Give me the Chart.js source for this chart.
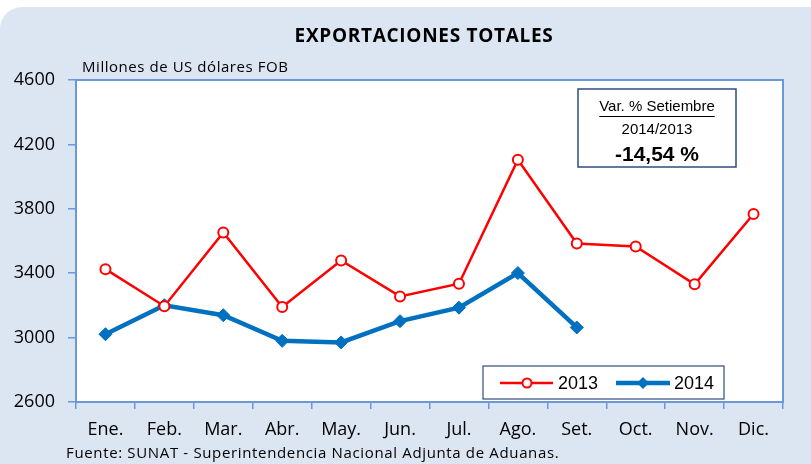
<!DOCTYPE html>
<html><head><meta charset="utf-8">
<script src="https://cdn.jsdelivr.net/npm/chart.js@4/dist/chart.umd.min.js"></script>
<style>html,body{margin:0;padding:0;background:#fff;}#wrap{width:811px;height:464px;position:relative;}</style>
</head><body><div id="wrap"><canvas id="c" width="811" height="464"></canvas></div>
<script>
const months = ["Ene.","Feb.","Mar.","Abr.","May.","Jun.","Jul.","Ago.","Set.","Oct.","Nov.","Dic."];
const exports2013 = [3425, 3195, 3653, 3190, 3479, 3256, 3335, 4105, 3585, 3566, 3331, 3768];
const exports2014 = [3021, 3201, 3139, 2980, 2970, 3102, 3186, 3401, 3063, null, null, null];
const yTicks = [2600, 3000, 3400, 3800, 4200, 4600];
const seriesNames = ["2013", "2014"];
const titleText = "EXPORTACIONES TOTALES";
const unitText = "Millones de US dólares FOB";
const sourceText = "Fuente: SUNAT - Superintendencia Nacional Adjunta de Aduanas.";
const boxLines = ["Var. % Setiembre", "2014/2013", "-14,54 %"];

const FONT = "'Open Sans', sans-serif";
const ARIAL = "'Liberation Sans', Arial, sans-serif";
const AXIS = "#6a98d8";

const decor = {
  id: 'decor',
  beforeDraw(chart) {
    const ctx = chart.ctx;
    const W = chart.width, H = chart.height;
    ctx.save();
    ctx.fillStyle = '#fff';
    ctx.fillRect(0, 0, W, H);
    ctx.fillStyle = '#dce6f2';
    ctx.beginPath();
    ctx.roundRect(0, 7, W + 20, H + 30, 22);
    ctx.fill();
    const a = chart.chartArea;
    ctx.fillStyle = '#fff';
    ctx.fillRect(a.left, a.top, a.right - a.left, a.bottom - a.top);
    ctx.fillStyle = '#000';
    ctx.textAlign = 'center'; ctx.textBaseline = 'middle';
    ctx.font = "bold 19px " + FONT;
    ctx.letterSpacing = '0.7px';
    ctx.fillText(titleText, 424, 37);
    ctx.textAlign = 'left';
    ctx.font = "15px " + FONT;
    ctx.letterSpacing = '0.55px';
    ctx.fillText(unitText, 82, 68);
    ctx.letterSpacing = '0.65px';
    ctx.fillText(sourceText, 66, 454);
    ctx.letterSpacing = '0px';
    ctx.restore();
  },
  afterDraw(chart) {
    const ctx = chart.ctx;
    const a = chart.chartArea;
    ctx.save();
    ctx.strokeStyle = AXIS; ctx.lineWidth = 2;
    ctx.strokeRect(a.left, a.top, a.right - a.left, a.bottom - a.top);
    // variation box
    ctx.fillStyle = '#fff';
    ctx.fillRect(578, 89, 158, 78);
    ctx.strokeStyle = '#2e4d7e'; ctx.lineWidth = 1.5;
    ctx.strokeRect(578, 89, 158, 78);
    ctx.fillStyle = '#000';
    ctx.textAlign = 'center'; ctx.textBaseline = 'middle';
    ctx.font = "15px " + ARIAL;
    ctx.fillText(boxLines[0], 657, 107);
    const w0 = ctx.measureText(boxLines[0]).width;
    ctx.strokeStyle = '#000'; ctx.lineWidth = 1;
    ctx.beginPath(); ctx.moveTo(657 - w0/2, 116.5); ctx.lineTo(657 + w0/2, 116.5); ctx.stroke();
    ctx.fillText(boxLines[1], 657, 130);
    ctx.font = "bold 21px " + ARIAL;
    ctx.fillText(boxLines[2], 657, 155);
    // legend
    ctx.fillStyle = '#fff';
    ctx.fillRect(483, 366, 241, 33);
    ctx.strokeStyle = '#2e4d7e'; ctx.lineWidth = 1.2;
    ctx.strokeRect(483, 366, 241, 33);
    const ds = chart.data.datasets;
    const ly = 383;
    ctx.strokeStyle = ds[0].borderColor; ctx.lineWidth = ds[0].borderWidth;
    ctx.beginPath(); ctx.moveTo(500, ly); ctx.lineTo(553, ly); ctx.stroke();
    ctx.fillStyle = '#fff'; ctx.lineWidth = 2;
    ctx.beginPath(); ctx.arc(527, ly, 4.5, 0, Math.PI*2); ctx.fill(); ctx.stroke();
    ctx.fillStyle = '#000'; ctx.textAlign = 'left';
    ctx.font = "18px " + ARIAL;
    ctx.fillText(seriesNames[0], 558, ly + 1);
    ctx.strokeStyle = ds[1].borderColor; ctx.lineWidth = ds[1].borderWidth;
    ctx.beginPath(); ctx.moveTo(616, ly); ctx.lineTo(670, ly); ctx.stroke();
    ctx.fillStyle = ds[1].borderColor;
    ctx.beginPath(); ctx.moveTo(643, ly-6); ctx.lineTo(649, ly); ctx.lineTo(643, ly+6); ctx.lineTo(637, ly); ctx.closePath(); ctx.fill();
    ctx.fillStyle = '#000';
    ctx.fillText(seriesNames[1], 674, ly + 1);
    ctx.restore();
  }
};

new Chart(document.getElementById('c'), {
  type: 'line',
  data: {
    labels: months,
    datasets: [
      { label: seriesNames[0], data: exports2013, borderColor: '#ff0000', backgroundColor: '#ffffff',
        borderWidth: 2.5, pointStyle: 'circle', pointRadius: 5, pointBorderWidth: 2,
        pointBackgroundColor: '#ffffff', pointBorderColor: '#ff0000', tension: 0 },
      { label: seriesNames[1], data: exports2014, borderColor: '#0070c0', backgroundColor: '#0070c0',
        borderWidth: 4.5, pointStyle: 'rectRot', pointRadius: 6.5, pointBorderWidth: 1,
        pointBackgroundColor: '#0070c0', pointBorderColor: '#0070c0', tension: 0, spanGaps: false }
    ]
  },
  options: {
    responsive: false, animation: false,
    layout: { padding: { left: 0, right: 28, top: 80, bottom: 0 } },
    plugins: { legend: { display: false }, title: { display: false }, tooltip: { enabled: false } },
    scales: {
      x: {
        offset: true,
        afterFit: (s) => { s.height = 62; },
        grid: { display: true, offset: true, drawOnChartArea: false, drawTicks: true, tickLength: 7, color: AXIS, lineWidth: 1.5 },
        border: { display: true, color: AXIS, width: 2 },
        ticks: { color: '#000', font: { family: FONT, size: 18 }, padding: 10, maxRotation: 0, autoSkip: false }
      },
      y: {
        min: 2600, max: 4600,
        afterBuildTicks: (s) => { s.ticks = yTicks.map(v => ({ value: v })); },
        afterFit: (s) => { s.width = 76; },
        grid: { display: true, drawOnChartArea: false, drawTicks: true, tickLength: 8, color: AXIS, lineWidth: 1.5 },
        border: { display: true, color: AXIS, width: 2 },
        ticks: { color: '#000', font: { family: FONT, size: 18 }, padding: 13, callback: (v) => String(v) }
      }
    }
  },
  plugins: [decor]
});
</script></body></html>
